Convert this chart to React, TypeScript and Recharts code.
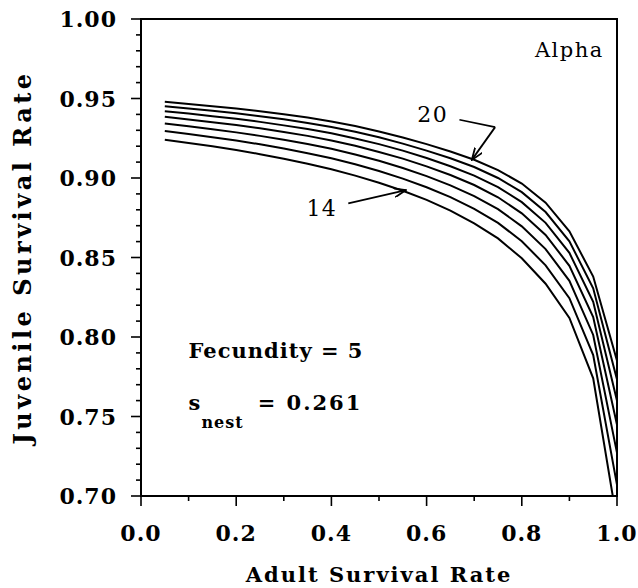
import React from 'react';
import { LineChart, Line, XAxis, YAxis, ReferenceArea, ReferenceLine, ReferenceDot } from 'recharts';

const adultSurvival = [0.05, 0.10, 0.15, 0.20, 0.25, 0.30, 0.35, 0.40, 0.45, 0.50, 0.55, 0.60, 0.65, 0.70, 0.75, 0.80, 0.85, 0.90, 0.95, 1.00];
const fec20 = [0.9480, 0.9466, 0.9452, 0.9437, 0.9420, 0.9401, 0.9380, 0.9356, 0.9327, 0.9293, 0.9255, 0.9213, 0.9167, 0.9115, 0.9050, 0.8965, 0.8845, 0.8665, 0.8380, 0.7850];
const fec19 = [0.9452, 0.9437, 0.9423, 0.9407, 0.9389, 0.9369, 0.9346, 0.9321, 0.9291, 0.9256, 0.9216, 0.9172, 0.9124, 0.9069, 0.9000, 0.8911, 0.8786, 0.8602, 0.8306, 0.7733];
const fec18 = [0.9420, 0.9405, 0.9389, 0.9372, 0.9353, 0.9331, 0.9308, 0.9281, 0.9249, 0.9213, 0.9172, 0.9126, 0.9074, 0.9015, 0.8943, 0.8848, 0.8718, 0.8529, 0.8221, 0.7599];
const fec17 = [0.9385, 0.9368, 0.9351, 0.9333, 0.9313, 0.9290, 0.9265, 0.9236, 0.9203, 0.9164, 0.9122, 0.9073, 0.9019, 0.8956, 0.8879, 0.8778, 0.8642, 0.8448, 0.8125, 0.7448];
const fec16 = [0.9343, 0.9325, 0.9307, 0.9287, 0.9265, 0.9241, 0.9214, 0.9184, 0.9148, 0.9108, 0.9063, 0.9012, 0.8954, 0.8886, 0.8804, 0.8696, 0.8553, 0.8353, 0.8013, 0.7271];
const fec15 = [0.9295, 0.9276, 0.9257, 0.9236, 0.9212, 0.9185, 0.9156, 0.9124, 0.9086, 0.9044, 0.8996, 0.8942, 0.8880, 0.8806, 0.8718, 0.8602, 0.8451, 0.8244, 0.7886, 0.7070];
const fec14 = [0.9240, 0.9220, 0.9199, 0.9176, 0.9150, 0.9121, 0.9090, 0.9055, 0.9015, 0.8970, 0.8920, 0.8862, 0.8795, 0.8715, 0.8620, 0.8495, 0.8335, 0.8120, 0.7740, 0.6840];

const seriesKeys = ['f14', 'f15', 'f16', 'f17', 'f18', 'f19', 'f20'];
const seriesValues = [fec14, fec15, fec16, fec17, fec18, fec19, fec20];

const xTicks = [0, 0.1, 0.2, 0.3, 0.4, 0.5, 0.6, 0.7, 0.8, 0.9, 1.0];
const yTicks = [0.70, 0.71, 0.72, 0.73, 0.74, 0.75, 0.76, 0.77, 0.78, 0.79, 0.80, 0.81, 0.82, 0.83, 0.84, 0.85, 0.86, 0.87, 0.88, 0.89, 0.90, 0.91, 0.92, 0.93, 0.94, 0.95, 0.96, 0.97, 0.98, 0.99, 1.00];

const xTitle = 'Adult Survival Rate';
const yTitle = 'Juvenile Survival Rate';

const data = adultSurvival.map((x, i) => {
  const row: Record<string, number> = { x };
  seriesKeys.forEach((k, j) => { row[k] = seriesValues[j][i]; });
  return row;
});

const FONT = '"DejaVu Serif", serif';
const TICK_SIZE = 10;
const TICK_MARGIN = 14;

const YTick = (props: any) => {
  const { x, y, payload } = props;
  const v = payload.value as number;
  const major = Math.round(v * 100) % 5 === 0;
  const ax = x + TICK_MARGIN + TICK_SIZE;
  return (
    <g>
      <line x1={ax} x2={ax - (major ? TICK_SIZE : 5)} y1={y} y2={y} stroke="#000" strokeWidth={1.6} />
      {major && (
        <text x={x} y={y} dy={8} textAnchor="end" fontFamily={FONT} fontWeight="bold" fontSize={22} letterSpacing={1} fill="#000">
          {v.toFixed(2)}
        </text>
      )}
    </g>
  );
};

const XTick = (props: any) => {
  const { x, y, payload } = props;
  const v = payload.value as number;
  const major = Math.round(v * 10) % 2 === 0;
  const ay = y - TICK_MARGIN - TICK_SIZE;
  return (
    <g>
      <line x1={x} x2={x} y1={ay} y2={ay + (major ? TICK_SIZE : 5)} stroke="#000" strokeWidth={1.6} />
      {major && (
        <text x={x} y={y} dy={21} textAnchor="middle" fontFamily={FONT} fontWeight="bold" fontSize={22} letterSpacing={1} fill="#000">
          {v.toFixed(1)}
        </text>
      )}
    </g>
  );
};

const renderXTitle = (props: any) => {
  const vb = props.viewBox || {};
  return (
    <text x={vb.x + vb.width / 2} y={vb.y + vb.height - 6} textAnchor="middle" fontFamily={FONT} fontWeight="bold" fontSize={21} letterSpacing={2} fill="#000">
      {xTitle}
    </text>
  );
};

const renderYTitle = (props: any) => {
  const vb = props.viewBox || {};
  const bx = vb.x + 31;
  const cy = vb.y + vb.height / 2;
  return (
    <text x={bx} y={cy} transform={`rotate(-90, ${bx}, ${cy})`} textAnchor="middle" fontFamily={FONT} fontWeight="bold" fontSize={24} letterSpacing={3.5} fill="#000">
      {yTitle}
    </text>
  );
};

const renderSnest = (props: any) => {
  const vb = props.viewBox || {};
  return (
    <text x={vb.x ?? 0} y={vb.y ?? 0} fontFamily={FONT} fontWeight="bold" fontSize={21} letterSpacing={1} fill="#000">
      <tspan>s</tspan>
      <tspan dy={18} fontSize={16}>nest</tspan>
      <tspan dy={-18} dx={14} letterSpacing={2}>= 0.261</tspan>
    </text>
  );
};

const renderFec = (props: any) => {
  const vb = props.viewBox || {};
  return (
    <text x={vb.x ?? 0} y={vb.y ?? 0} fontFamily={FONT} fontWeight="bold" fontSize={21} letterSpacing={1} fill="#000">
      Fecundity = 5
    </text>
  );
};

const annoStyle = { fontFamily: FONT, fill: '#000', fontSize: 22, letterSpacing: 1.5 };

export default function App() {
  return (
    <div style={{ position: 'absolute', left: 0, top: 0, width: 638, height: 588, background: '#fff' }}>
      <LineChart width={638} height={588} data={data} margin={{ top: 19, right: 21, bottom: 0, left: 0 }}>
        <defs>
          <marker id="arrowHead" viewBox="0 0 13 10" refX="12" refY="5" markerWidth="13" markerHeight="10" markerUnits="userSpaceOnUse" orient="auto">
            <path d="M0,0.5 L12,5 L0,9.5" fill="none" stroke="#000" strokeWidth={1.8} />
          </marker>
        </defs>
        <XAxis
          type="number"
          dataKey="x"
          domain={[0, 1]}
          ticks={xTicks}
          interval={0}
          height={92}
          tickSize={TICK_SIZE}
          tickMargin={TICK_MARGIN}
          tickLine={false}
          tick={<XTick />}
          axisLine={{ stroke: '#000', strokeWidth: 2 }}
          label={{ content: renderXTitle }}
        />
        <YAxis
          type="number"
          domain={[0.7, 1.0]}
          allowDataOverflow
          ticks={yTicks}
          interval={0}
          width={141}
          tickSize={TICK_SIZE}
          tickMargin={TICK_MARGIN}
          tickLine={false}
          tick={<YTick />}
          axisLine={{ stroke: '#000', strokeWidth: 2 }}
          label={{ content: renderYTitle }}
        />
        <ReferenceArea x1={0} x2={1} y1={0.7} y2={1.0} fill="none" stroke="#000" strokeWidth={2} />
        {seriesKeys.map((k) => (
          <Line key={k} dataKey={k} type="linear" stroke="#000" strokeWidth={2} dot={false} isAnimationActive={false} />
        ))}
        <ReferenceDot x={0.90} y={0.981} r={0} fill="none" stroke="none"
          label={{ value: 'Alpha', position: 'center', style: { ...annoStyle, fontSize: 21 } }} />
        <ReferenceDot x={0.613} y={0.940} r={0} fill="none" stroke="none"
          label={{ value: '20', position: 'center', style: annoStyle }} />
        <ReferenceDot x={0.380} y={0.881} r={0} fill="none" stroke="none"
          label={{ value: '14', position: 'center', style: annoStyle }} />
        <ReferenceLine segment={[{ x: 0.669, y: 0.9366 }, { x: 0.744, y: 0.932 }]} stroke="#000" strokeWidth={1.6} />
        <ReferenceLine segment={[{ x: 0.744, y: 0.932 }, { x: 0.695, y: 0.9114 }]} stroke="#000" strokeWidth={1.8} markerEnd="url(#arrowHead)" />
        <ReferenceLine segment={[{ x: 0.4355, y: 0.884 }, { x: 0.5567, y: 0.8924 }]} stroke="#000" strokeWidth={1.8} markerEnd="url(#arrowHead)" />
        <ReferenceDot x={0.10} y={0.787} r={0} fill="none" stroke="none" label={renderFec} />
        <ReferenceDot x={0.10} y={0.7543} r={0} fill="none" stroke="none" label={renderSnest} />
      </LineChart>
    </div>
  );
}
